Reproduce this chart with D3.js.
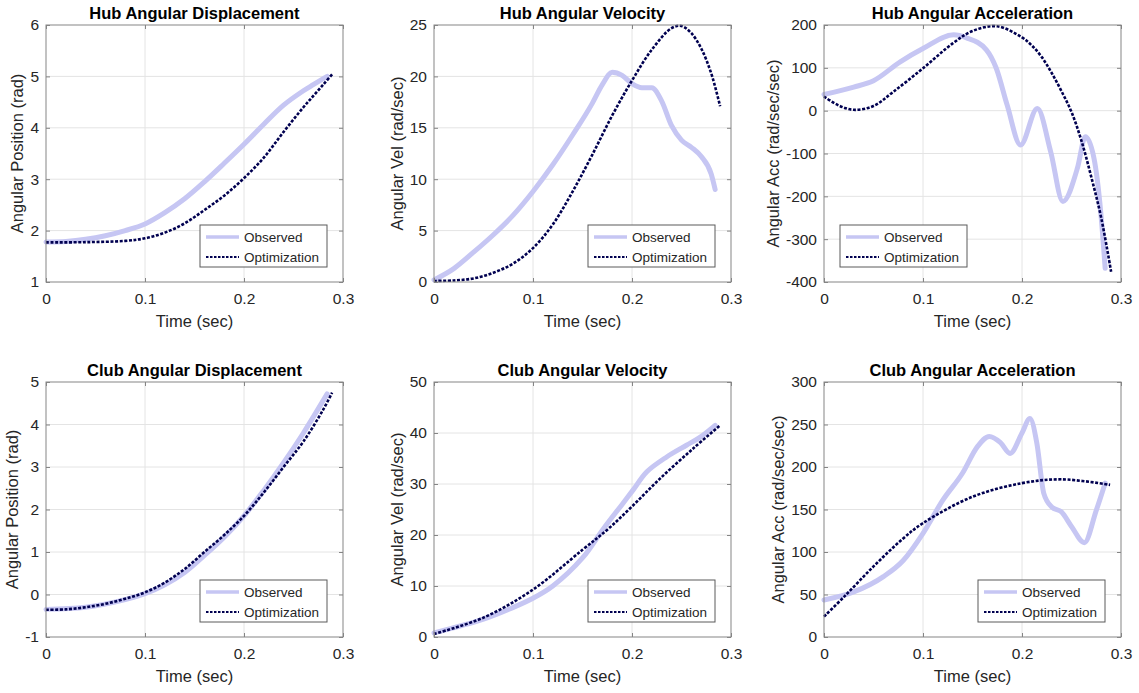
<!DOCTYPE html>
<html><head><meta charset="utf-8">
<script src="https://cdn.jsdelivr.net/npm/d3@7"></script>
<style>body{margin:0;background:#fff;} svg{display:block;font-family:"Liberation Sans",Arial,sans-serif;}</style>
</head><body><svg id="c" width="1139" height="693"></svg>
<script>
// ---------- data ----------
const titles = ["Hub Angular Displacement","Hub Angular Velocity","Hub Angular Acceleration",
                "Club Angular Displacement","Club Angular Velocity","Club Angular Acceleration"];
const yLabels = ["Angular Position (rad)","Angular Vel (rad/sec)","Angular Acc (rad/sec/sec)",
                 "Angular Position (rad)","Angular Vel (rad/sec)","Angular Acc (rad/sec/sec)"];
const xLabel = "Time (sec)";
const xTicks = [0,0.1,0.2,0.3];
const yTicks = [[1,2,3,4,5,6],[0,5,10,15,20,25],[-400,-300,-200,-100,0,100,200],
                [-1,0,1,2,3,4,5],[0,10,20,30,40,50],[0,50,100,150,200,250,300]];
const seriesNames = ["Observed","Optimization"];

// Hub angular displacement
const hubDispObsT = [0,0.02,0.04,0.06,0.08,0.1,0.12,0.14,0.16,0.18,0.2,0.22,0.24,0.26,0.27,0.284];
const hubDispObs  = [1.78,1.79,1.83,1.9,2.0,2.13,2.35,2.62,2.95,3.31,3.68,4.07,4.44,4.72,4.84,5.0];
const hubDispOptT = [0,0.04,0.08,0.1,0.12,0.14,0.16,0.18,0.2,0.22,0.24,0.26,0.27,0.28,0.289];
const hubDispOpt  = [1.77,1.775,1.8,1.85,1.96,2.14,2.4,2.68,3.02,3.42,3.92,4.4,4.62,4.84,5.04];
// Hub angular velocity
const hubVelObsT = [0,0.02,0.04,0.06,0.08,0.1,0.12,0.14,0.16,0.17,0.18,0.19,0.2,0.21,0.22,0.23,0.24,0.25,0.26,0.27,0.28,0.284];
const hubVelObs  = [0.2,1.3,2.9,4.6,6.5,8.8,11.4,14.3,17.4,19.2,20.4,20.1,19.3,18.9,18.9,17.6,15.2,13.8,13.1,12.2,10.5,9.0];
const hubVelOptT = [0,0.02,0.04,0.06,0.08,0.1,0.12,0.14,0.16,0.18,0.2,0.22,0.24,0.25,0.26,0.27,0.28,0.289];
const hubVelOpt  = [0.1,0.15,0.35,0.9,1.8,3.3,5.6,8.8,12.4,16.2,19.6,22.6,24.7,24.9,24.2,22.7,20.3,17.1];
// Hub angular acceleration
const hubAccObsT = [0,0.03,0.05,0.077,0.1,0.131,0.144,0.164,0.174,0.185,0.1985,0.2155,0.229,0.2413,0.256,0.264,0.2727,0.2795,0.284];
const hubAccObs  = [38,55,70,114,145,177,170,142,99,13,-80,5,-96,-212,-134,-61,-111,-236,-368];
const hubAccOptT = [0,0.015,0.03,0.05,0.07,0.1,0.13,0.15,0.175,0.2,0.21,0.22,0.23,0.24,0.25,0.26,0.27,0.28,0.29];
const hubAccOpt  = [33,12,2,11,44,99,157,186,197,171,152,125,88,45,-3,-70,-155,-250,-376];
// Club angular displacement
const clubDispObsT = [0,0.04,0.08,0.1,0.12,0.14,0.16,0.18,0.2,0.22,0.24,0.26,0.284];
const clubDispObs  = [-0.35,-0.3,-0.12,0.02,0.23,0.52,0.92,1.35,1.85,2.45,3.1,3.8,4.72];
const clubDispOptT = [0,0.02,0.04,0.06,0.08,0.1,0.12,0.14,0.16,0.18,0.2,0.22,0.24,0.26,0.28,0.289];
const clubDispOpt  = [-0.36,-0.35,-0.3,-0.22,-0.1,0.05,0.28,0.6,1.0,1.4,1.85,2.4,3.0,3.6,4.35,4.75];
// Club angular velocity
const clubVelObsT = [0,0.05,0.08,0.1,0.12,0.15,0.171,0.19,0.201,0.215,0.235,0.255,0.269,0.284];
const clubVelObs  = [0.8,3.5,5.8,7.6,10.0,15.5,21.2,26.0,28.8,32.4,35.3,37.6,39.2,41.5];
const clubVelOptT = [0,0.05,0.1,0.15,0.176,0.2,0.228,0.262,0.289];
const clubVelOpt  = [0.6,3.8,9.3,17.1,21.2,25.6,31.0,37.0,41.5];
// Club angular acceleration
const clubAccObsT = [0,0.03,0.06,0.08,0.1,0.12,0.14,0.155,0.167,0.178,0.188,0.2,0.208,0.215,0.222,0.23,0.24,0.25,0.263,0.275,0.284];
const clubAccObs  = [43.5,53,71,90,122,161,193,224,236,229,216,240,257,228,169,153,147,130,111,149,181];
const clubAccOptT = [0,0.02,0.05,0.08,0.1,0.15,0.2,0.24,0.289];
const clubAccOpt  = [24,47,83,116,134,165,181,185.5,179];

const panels = [
  {obsT:hubDispObsT,obs:hubDispObs,optT:hubDispOptT,opt:hubDispOpt,legend:"br",smooth:true},
  {obsT:hubVelObsT,obs:hubVelObs,optT:hubVelOptT,opt:hubVelOpt,legend:"br",smooth:false},
  {obsT:hubAccObsT,obs:hubAccObs,optT:hubAccOptT,opt:hubAccOpt,legend:"bl",smooth:false},
  {obsT:clubDispObsT,obs:clubDispObs,optT:clubDispOptT,opt:clubDispOpt,legend:"br",smooth:true},
  {obsT:clubVelObsT,obs:clubVelObs,optT:clubVelOptT,opt:clubVelOpt,legend:"br",smooth:true},
  {obsT:clubAccObsT,obs:clubAccObs,optT:clubAccOptT,opt:clubAccOpt,legend:"br",smooth:false}
];

// ---------- layout ----------
const colLeft = [46,434,824], plotW = 297;
const rowTop = [25,382], plotH = [257,255];
const obsColor = "#c6c6f3", optColor = "#000050";
const axisColor = "#858585", textColor = "#262626", gridColor = "#e4e4e4";
const FONT = "'Liberation Sans',Arial,sans-serif";

const svg = d3.select("#c");

panels.forEach((p,i)=>{
  const col = i%3, row = Math.floor(i/3);
  const x0 = colLeft[col], y0 = rowTop[row], w = plotW, h = plotH[row];
  const yt = yTicks[i];
  const x = d3.scaleLinear().domain([0,0.3]).range([0,w]);
  const y = d3.scaleLinear().domain([yt[0], yt[yt.length-1]]).range([h,0]);
  const g = svg.append("g").attr("transform",`translate(${x0},${y0})`);

  // grid
  g.append("g").selectAll("line").data(xTicks.slice(1,-1)).join("line")
    .attr("x1",d=>x(d)).attr("x2",d=>x(d)).attr("y1",0).attr("y2",h)
    .attr("stroke",gridColor).attr("stroke-width",1);
  g.append("g").selectAll("line").data(yt.slice(1,-1)).join("line")
    .attr("y1",d=>y(d)).attr("y2",d=>y(d)).attr("x1",0).attr("x2",w)
    .attr("stroke",gridColor).attr("stroke-width",1);

  // lines
  const obsGen = d3.line().x(d=>x(d[0])).y(d=>y(d[1]))
    .curve(p.smooth ? d3.curveCatmullRom.alpha(0.5) : d3.curveMonotoneX);
  const optGen = d3.line().x(d=>x(d[0])).y(d=>y(d[1])).curve(d3.curveCatmullRom.alpha(0.5));
  g.append("path").datum(p.obsT.map((t,k)=>[t,p.obs[k]]))
    .attr("d",obsGen).attr("fill","none").attr("stroke",obsColor)
    .attr("stroke-width",5).attr("stroke-linejoin","round").attr("stroke-linecap","round");
  g.append("path").datum(p.optT.map((t,k)=>[t,p.opt[k]]))
    .attr("d",optGen).attr("fill","none").attr("stroke",optColor)
    .attr("stroke-width",2.6).attr("stroke-dasharray","3,1.6");

  // axes
  const ax = (gen, tr) => {
    const a = g.append("g").attr("transform",tr).call(gen);
    a.select(".domain").remove();
    a.selectAll(".tick line").attr("stroke",axisColor);
    a.selectAll("text").attr("fill",textColor).attr("font-size","15.5px").attr("font-family",FONT);
    return a;
  };
  ax(d3.axisBottom(x).tickValues(xTicks).tickSizeInner(-4).tickSizeOuter(0).tickPadding(11)
      .tickFormat(d=>d===0?"0":d3.format(".1f")(d)), `translate(0,${h})`);
  ax(d3.axisTop(x).tickValues(xTicks).tickSizeInner(-4).tickSizeOuter(0).tickFormat(""), `translate(0,0)`);
  const ya = ax(d3.axisLeft(y).tickValues(yt).tickSizeInner(-4).tickSizeOuter(0).tickPadding(7)
      .tickFormat(d=>String(d)), `translate(0,0)`);
  ax(d3.axisRight(y).tickValues(yt).tickSizeInner(-4).tickSizeOuter(0).tickFormat(""), `translate(${w},0)`);

  // frame
  g.append("rect").attr("x",0).attr("y",0).attr("width",w).attr("height",h)
    .attr("fill","none").attr("stroke",axisColor).attr("stroke-width",1);

  // titles / labels
  g.append("text").attr("x",w/2).attr("y",-6).attr("text-anchor","middle").attr("font-family",FONT)
    .attr("font-size","16.5px").attr("font-weight","bold").attr("fill","#000").text(titles[i]);
  g.append("text").attr("x",w/2).attr("y",h+45).attr("text-anchor","middle").attr("font-family",FONT)
    .attr("font-size","16.5px").attr("fill",textColor).text(xLabel);
  let minX = 0;
  ya.selectAll("text").each(function(){ const b=this.getBBox(); const m=this.getCTM(); 
    const gx = b.x + (m ? m.e - x0 : 0); minX=Math.min(minX,gx); });
  const lx = minX - 7;
  g.append("text").attr("transform",`translate(${lx},${h/2}) rotate(-90)`).attr("font-family",FONT)
    .attr("text-anchor","middle").attr("font-size","16.5px").attr("fill",textColor).text(yLabels[i]);

  // legend
  const lw = 127, lh = 42;
  const lxp = p.legend==="bl" ? 16 : w-16-lw;
  const lyp = h-15-lh;
  const lg = g.append("g").attr("transform",`translate(${lxp},${lyp})`);
  lg.append("rect").attr("width",lw).attr("height",lh).attr("fill","#fff")
    .attr("stroke","#5a5a5a").attr("stroke-width",1);
  const rows = [{c:obsColor,wd:3.5,da:null},{c:optColor,wd:2,da:"2.5,1.5"}];
  rows.forEach((r,k)=>{
    const yy = 12 + k*20;
    lg.append("line").attr("x1",6).attr("x2",39).attr("y1",yy).attr("y2",yy)
      .attr("stroke",r.c).attr("stroke-width",r.wd).attr("stroke-dasharray",r.da);
    lg.append("text").attr("x",44).attr("y",yy+5).attr("font-size","13.5px").attr("font-family",FONT)
      .attr("fill",textColor).text(seriesNames[k]);
  });
});
</script></body></html>
